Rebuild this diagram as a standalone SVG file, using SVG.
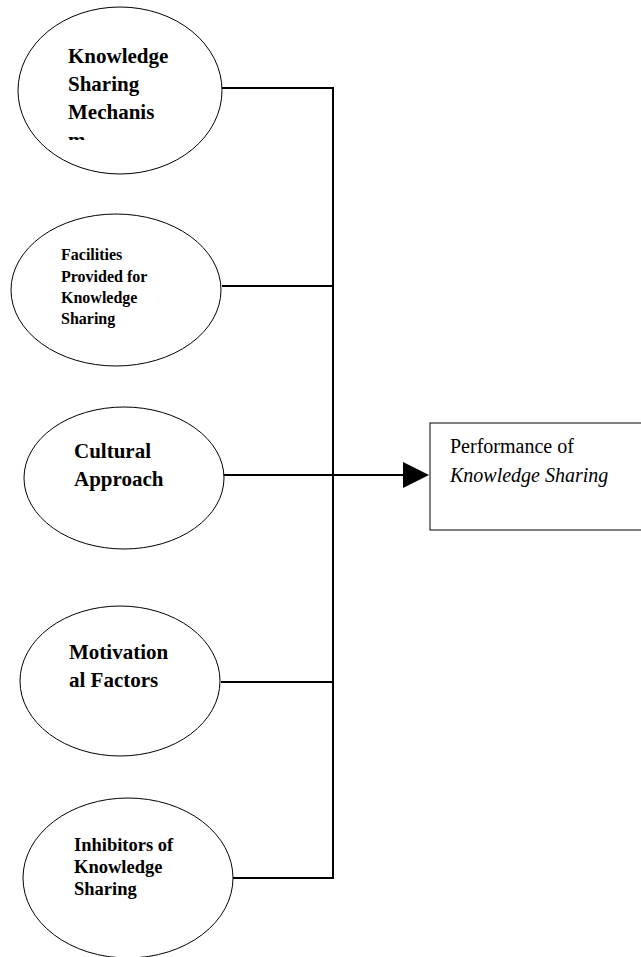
<svg xmlns="http://www.w3.org/2000/svg" width="641" height="957" viewBox="0 0 641 957">
<style>
.node ellipse{fill:#fff;stroke:#000;stroke-width:1}
.b{font-family:"Liberation Serif","Times New Roman",serif;font-weight:bold;fill:#000}
.r{font-family:"Liberation Serif","Times New Roman",serif;fill:#000;font-size:20px}
.conn line,.conn polyline{stroke:#000;stroke-width:2;fill:none}
</style>
<defs>
<clipPath id="c1"><rect x="0" y="0" width="240" height="140"/></clipPath>
</defs>
<rect width="641" height="957" fill="#fff"/>
<g id="connectors" class="conn">
<polyline points="222,88 333,88 333,878 233,878"/>
<line x1="222" y1="286" x2="333" y2="286"/>
<line x1="223" y1="475" x2="404" y2="475"/>
<line x1="221" y1="682" x2="333" y2="682"/>
<polygon points="403,462 429,475 403,488" fill="#000" stroke="none"/>
</g>
<g id="n1" class="node">
<ellipse cx="120" cy="90.5" rx="102" ry="83.5"/>
<g clip-path="url(#c1)">
<text class="b" font-size="21" x="68" y="63">Knowledge</text>
<text class="b" font-size="21" x="68" y="91">Sharing</text>
<text class="b" font-size="21" x="68" y="119">Mechanis</text>
<text class="b" font-size="21" x="68" y="147">m</text>
</g>
</g>
<g id="n2" class="node">
<ellipse cx="116" cy="290" rx="105" ry="76"/>
<text class="b" font-size="16" x="61" y="260">Facilities</text>
<text class="b" font-size="16" x="61" y="282">Provided for</text>
<text class="b" font-size="16" x="61" y="303">Knowledge</text>
<text class="b" font-size="16" x="61" y="324">Sharing</text>
</g>
<g id="n3" class="node">
<ellipse cx="124" cy="478" rx="100" ry="71"/>
<text class="b" font-size="21" x="74" y="458">Cultural</text>
<text class="b" font-size="21" x="74" y="486">Approach</text>
</g>
<g id="n4" class="node">
<ellipse cx="120" cy="681" rx="100" ry="75"/>
<text class="b" font-size="21" x="69" y="659">Motivation</text>
<text class="b" font-size="21" x="69" y="687">al Factors</text>
</g>
<g id="n5" class="node">
<ellipse cx="128" cy="878" rx="105" ry="80"/>
<text class="b" font-size="18.5" x="74" y="851">Inhibitors of</text>
<text class="b" font-size="18.5" x="74" y="873">Knowledge</text>
<text class="b" font-size="18.5" x="74" y="895">Sharing</text>
</g>
<g id="target" class="node">
<rect x="430" y="423" width="230" height="107" fill="#fff" stroke="#000" stroke-width="1"/>
<text class="r" x="450" y="453">Performance of</text>
<text class="r" x="450" y="482" font-style="italic">Knowledge Sharing</text>
</g>
</svg>
